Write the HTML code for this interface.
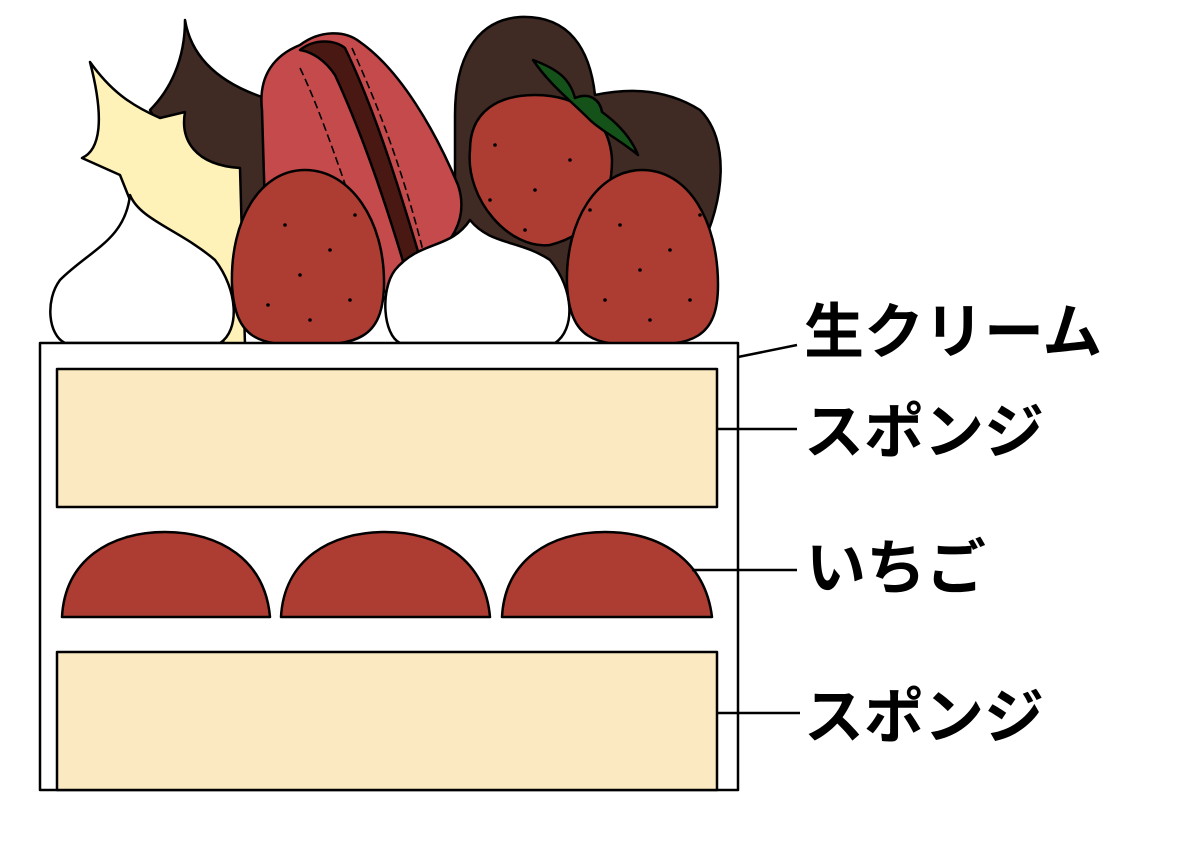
<!DOCTYPE html>
<html><head><meta charset="utf-8"><style>
html,body{margin:0;padding:0;background:#fff;}
svg{display:block;}
text{font-family:"Liberation Sans","Noto Sans CJK JP",sans-serif;font-weight:bold;font-size:60px;fill:#000;}
</style></head><body>
<svg width="1200" height="848" viewBox="0 0 1200 848" xmlns="http://www.w3.org/2000/svg">
<g stroke="#000" stroke-width="2.5" stroke-linejoin="round">
<path d="M185,20 C190,50 210,80 265,98 L268,300 L240,300 L200,200 L150,110 C170,90 185,60 185,20 Z" fill="#3f2a24"/>
<path d="M90,62 C110,90 130,105 160,118 L185,112 C180,140 195,165 240,168 L245,345 L225,345 L200,300 L150,230 L130,200 L120,175 L82,158 C100,150 105,120 90,62 Z" fill="#fff2b8"/>
<path d="M455,115 C455,60 475,20 520,17 C570,15 590,50 595,95 C620,90 660,85 700,110 C730,140 725,200 700,250 L640,270 L500,320 L455,240 Z" fill="#3f2a24"/>
<path d="M262,110 C258,75 275,55 300,45 C320,30 345,30 360,42 C400,70 435,130 458,185 C468,215 455,240 430,260 L400,290 L300,300 L265,210 Z" fill="#c44a4c"/>
<path d="M300,50 C315,38 335,40 345,48 C375,110 400,190 428,285 L412,292 C390,215 365,140 335,75 C325,60 312,52 300,50 Z" fill="#4a1812"/>
<path d="M300,68 C325,120 350,200 385,300 M352,48 C375,100 405,170 430,280" fill="none" stroke-dasharray="8,4" stroke-width="1.6"/>
<path d="M470,150 C470,110 500,95 535,95 C580,95 610,120 612,160 C612,205 590,235 550,245 C510,250 465,200 470,150 Z" fill="#ad3d33"/>
<path d="M533,60 C560,70 570,80 575,98 C590,92 600,100 602,112 C620,125 632,140 638,155 C620,140 600,130 590,120 C570,100 550,85 533,60 Z" fill="#155219"/>
<path d="M130,195 C125,240 90,250 60,280 C45,300 48,335 65,343 L220,343 C240,330 238,290 215,260 C180,230 140,220 130,195 Z" fill="#fff"/>
<path d="M470,220 C450,250 420,240 395,270 C380,290 383,335 400,343 L555,343 C575,330 575,290 550,260 C520,240 490,245 470,220 Z" fill="#fff"/>
<path d="M305,170 C260,170 230,220 232,285 C235,340 260,345 305,345 C355,345 383,340 384,285 C385,220 350,170 305,170 Z" fill="#ad3d33"/>
<path d="M642,170 C598,170 565,220 567,285 C570,340 595,345 642,345 C690,345 718,340 718,285 C718,220 688,170 642,170 Z" fill="#ad3d33"/>
<rect x="40" y="343" width="698" height="447" fill="#fff"/>
<rect x="57" y="369" width="660" height="138" fill="#fbeac1"/>
<rect x="57" y="652" width="660" height="138" fill="#fbeac1"/>
<path d="M62,617 C65,560 110,532 165,532 C220,532 265,560 270,617 Z" fill="#ad3d33"/>
<path d="M281,617 C284,560 330,532 385,532 C440,532 485,560 490,617 Z" fill="#ad3d33"/>
<path d="M502,617 C505,560 550,532 605,532 C660,532 705,560 712,617 Z" fill="#ad3d33"/>
<path d="M738,357 L797,345 M717,429 L797,429 M692,570 L797,570 M717,713 L800,713" fill="none"/>
</g>
<g fill="#000">
<circle cx="285" cy="225" r="1.8"/><circle cx="300" cy="275" r="1.8"/><circle cx="330" cy="250" r="1.8"/><circle cx="350" cy="300" r="1.8"/><circle cx="268" cy="305" r="1.8"/><circle cx="310" cy="320" r="1.8"/><circle cx="355" cy="215" r="1.8"/>
<circle cx="620" cy="225" r="1.8"/><circle cx="640" cy="270" r="1.8"/><circle cx="670" cy="250" r="1.8"/><circle cx="690" cy="300" r="1.8"/><circle cx="605" cy="300" r="1.8"/><circle cx="650" cy="320" r="1.8"/><circle cx="700" cy="215" r="1.8"/>
<circle cx="495" cy="145" r="1.8"/><circle cx="535" cy="190" r="1.8"/><circle cx="570" cy="160" r="1.8"/><circle cx="490" cy="200" r="1.8"/><circle cx="525" cy="230" r="1.8"/><circle cx="590" cy="210" r="1.8"/>
</g>
<text x="804" y="353">生クリーム</text>
<text x="804" y="453">スポンジ</text>
<text x="806" y="589">いちご</text>
<text x="804" y="738">スポンジ</text>
</svg>
</body></html>
